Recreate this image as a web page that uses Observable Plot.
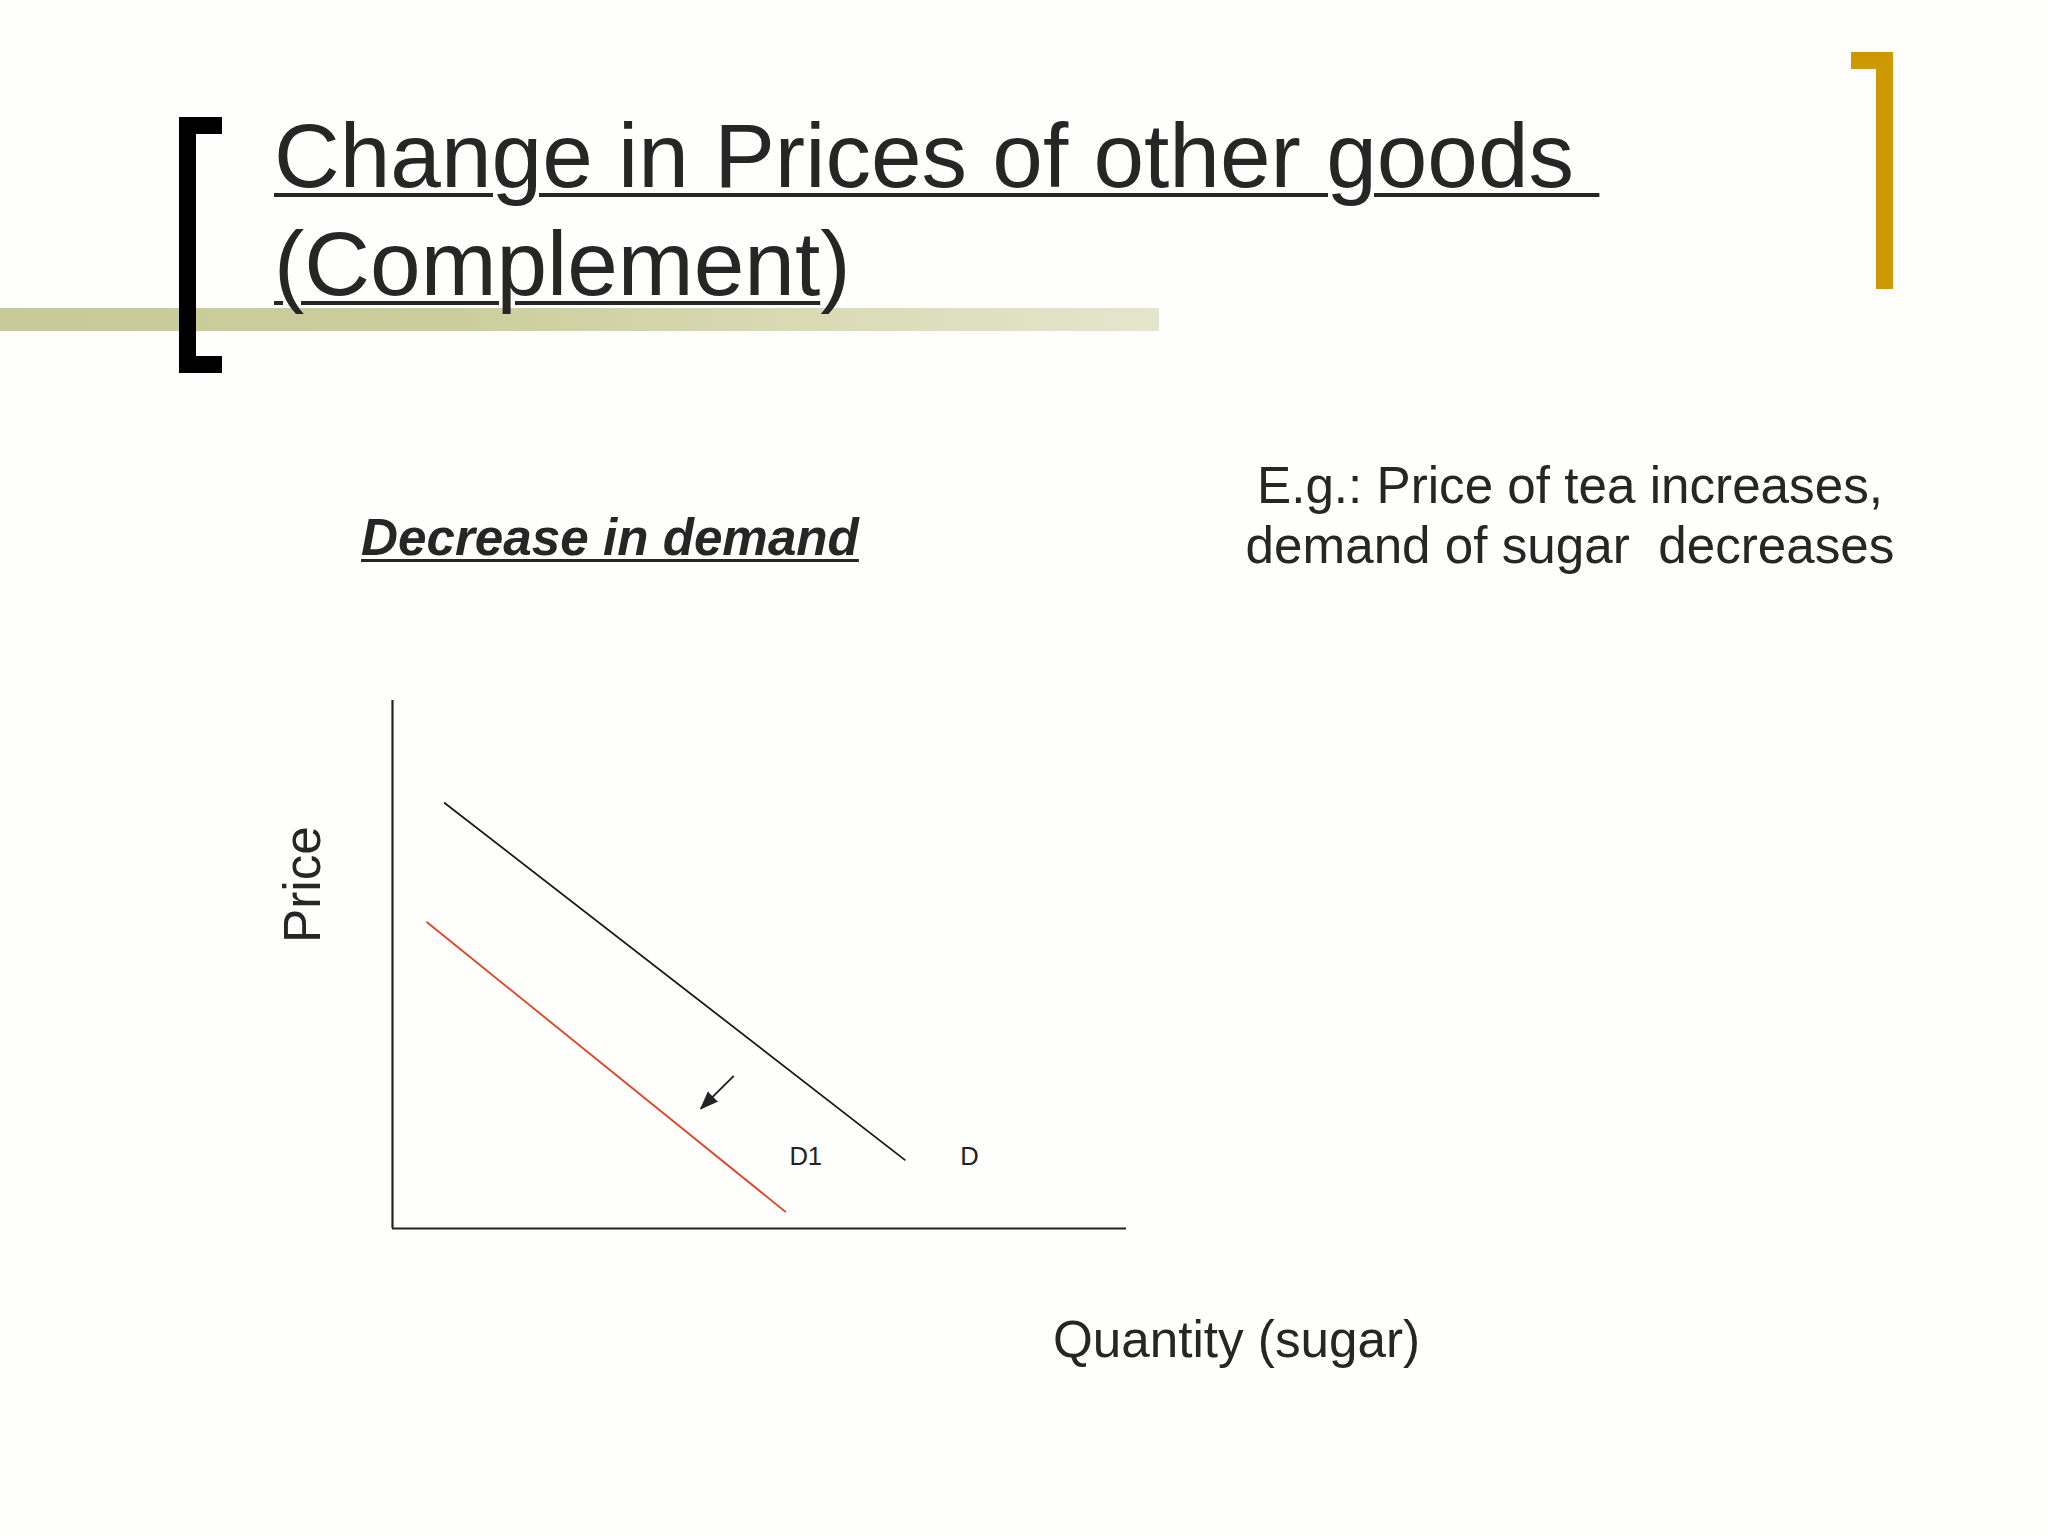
<!DOCTYPE html>
<html>
<head>
<meta charset="utf-8">
<script src="https://cdn.jsdelivr.net/npm/d3@7"></script>
<script src="https://cdn.jsdelivr.net/npm/@observablehq/plot@0.6"></script>
<style>
  html, body { margin: 0; padding: 0; background: #ffffff; }
  #slide { position: relative; width: 2048px; height: 1536px; overflow: hidden; background: #fefefd;
    font-family: "Liberation Sans", Arial, Helvetica, sans-serif; color: #262626; }
  .abs { position: absolute; }
  .bar { left: 0; top: 308px; width: 1159px; height: 23px;
    background: linear-gradient(to right, #c8cb97 0%, #cbce9c 40%, #d9d9b3 68%, #e4e6cc 100%); }
  .blk { background: #000000; }
  .gold { background: #cc9900; }
  .title { left: 274px; font-size: 91px; line-height: 91px; white-space: pre; color: #262626; }
  .u { text-decoration: underline; text-decoration-thickness: 4px; text-underline-offset: 6px; }
  .sub { left: 361px; top: 511.7px; font-size: 51.2px; line-height: 51.2px; font-weight: bold; font-style: italic;
    text-decoration: underline; text-decoration-thickness: 3px; text-underline-offset: 4px; white-space: pre; }
  .eg { left: 1170px; top: 456.3px; width: 800px; text-align: center; font-size: 51.2px; line-height: 60px; white-space: pre; }
  .ylab { left: 203.3px; top: 859.4px; width: 200px; text-align: center; font-size: 51.2px; line-height: 51.2px;
    transform: rotate(-90deg); transform-origin: 100px 25.6px; }
  .xlab { left: 1053px; top: 1313.7px; font-size: 51.2px; line-height: 51.2px; white-space: pre; }
  #chart { left: 0; top: 600px; }
</style>
</head>
<body>
<div id="slide">
  <div class="abs bar"></div>
  <div class="abs blk" style="left:179px;top:117px;width:17px;height:256px;"></div>
  <div class="abs blk" style="left:179px;top:117px;width:43px;height:17px;"></div>
  <div class="abs blk" style="left:179px;top:356px;width:43px;height:17px;"></div>
  <div class="abs gold" style="left:1851px;top:52px;width:42px;height:17px;"></div>
  <div class="abs gold" style="left:1876px;top:52px;width:17px;height:237px;"></div>
  <div class="abs title" style="top:109.7px;"><span class="u">Change in Prices of other goods </span></div>
  <div class="abs title" style="top:218px;"><span class="u">(Complement</span>)</div>
  <div class="abs sub">Decrease in demand</div>
  <div class="abs eg">E.g.: Price of tea increases,
demand of sugar  decreases</div>
  <div class="abs ylab">Price</div>
  <div class="abs xlab">Quantity (sugar)</div>
  <div class="abs" id="chart"></div>
</div>
<script>
// Demand curves (quantity, price) in chart units 0-100
const demandD = [
  {q: 7.1, p: 80.6},
  {q: 69.8, p: 13.0}
];
const demandD1 = [
  {q: 4.7, p: 58.0},
  {q: 53.5, p: 3.2}
];
// Shift arrow from D towards D1
const shiftArrow = [
  {q1: 46.5, p1: 28.9, q2: 42.0, p2: 22.7}
];
// Curve labels
const curveLabels = [
  {q: 56.3, p: 13.5, label: "D1"},
  {q: 78.6, p: 13.5, label: "D"}
];
const axisOrigin = [0];

const fontFamily = '"Liberation Sans", Arial, Helvetica, sans-serif';

const chart = Plot.plot({
  width: 1200,
  height: 700,
  marginLeft: 392,
  marginRight: 74,
  marginTop: 100,
  marginBottom: 72,
  style: {background: "transparent", overflow: "visible", fontFamily},
  x: {domain: [0, 100], axis: null},
  y: {domain: [0, 100], axis: null},
  marks: [
    Plot.ruleX(axisOrigin, {x: d => d, y1: 0, y2: 100, stroke: "#222222", strokeWidth: 2.2}),
    Plot.ruleY(axisOrigin, {y: d => d, x1: 0, x2: 100, stroke: "#222222", strokeWidth: 2.2}),
    Plot.line(demandD, {x: "q", y: "p", stroke: "#1a1a1a", strokeWidth: 1.8}),
    Plot.line(demandD1, {x: "q", y: "p", stroke: "#e5401f", strokeWidth: 1.8}),
    Plot.link(shiftArrow, {x1: "q1", y1: "p1", x2: "q2", y2: "p2", stroke: "#222222", strokeWidth: 2, strokeLinecap: "butt"}),
    Plot.vector(shiftArrow, {x: "q2", y: "p2", rotate: 225, length: 17, r: 6.5, shape: "spike", anchor: "end",
      fill: "#222222", stroke: "#222222", strokeWidth: 1, strokeLinejoin: "miter"}),
    Plot.text(curveLabels, {x: "q", y: "p", text: "label", fontSize: 25.6, fill: "#222222", textAnchor: "middle", fontFamily})
  ]
});
document.getElementById("chart").appendChild(chart);
</script>
</body>
</html>
